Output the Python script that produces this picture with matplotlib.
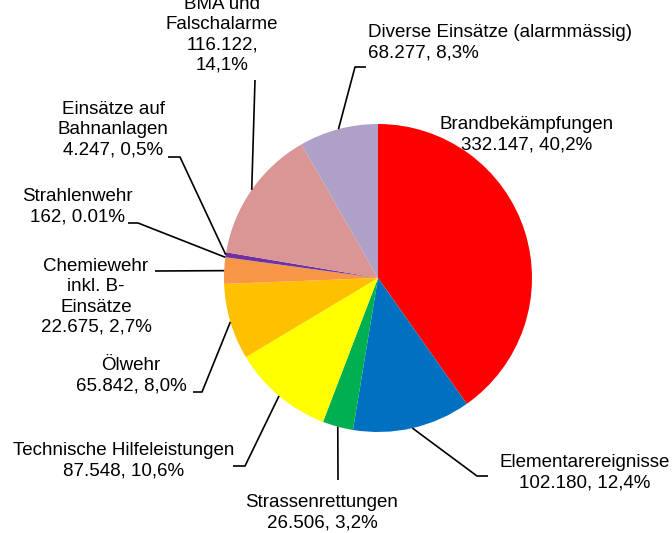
import numpy as np
import matplotlib.pyplot as plt

# data
labels = ["Brandbekämpfungen", "Elementarereignisse", "Strassenrettungen",
          "Technische Hilfeleistungen", "Ölwehr", "Chemiewehr\ninkl. B-\nEinsätze",
          "Strahlenwehr", "Einsätze auf\nBahnanlagen", "BMA und\nFalschalarme",
          "Diverse Einsätze (alarmmässig)"]
values = [332147, 102180, 26506, 87548, 65842, 22675, 162, 4247, 116122, 68277]
value_text = ["332.147, 40,2%", "102.180, 12,4%", "26.506, 3,2%", "87.548, 10,6%",
              "65.842, 8,0%", "22.675, 2,7%", "162, 0.01%", "4.247, 0,5%",
              "116.122,\n14,1%", "68.277, 8,3%"]
colors = ["#FF0000", "#0070C0", "#00B050", "#FFFF00", "#FFC000", "#F79646",
          "#4BACC6", "#7030A0", "#D99694", "#AFA0C8"]

W, H = 672, 533
plt.rcParams['font.family'] = ['Liberation Sans', 'DejaVu Sans']

fig = plt.figure(figsize=(W / 100, H / 100), dpi=100)
ax = fig.add_axes([0, 0, 1, 1])


def px(x, y):
    # pixel coords (top-left origin) -> data coords
    return x, H - y


cx, cy = px(378, 278)
R = 154
wedges, _ = ax.pie(values, colors=colors, startangle=90, counterclock=False,
                   center=(cx, cy), radius=R, frame=True,
                   wedgeprops=dict(linewidth=0))
ax.set_xlim(0, W)
ax.set_ylim(0, H)
ax.set_aspect('equal')
ax.axis('off')

# label layout: (text x, text y, ha, stub points leading to wedge)
layout = [
    (527, 135, 'center', None),
    (585, 473, 'center', [(488, 476), (477, 476)]),
    (322, 513, 'center', [(338, 480)]),
    (124, 461, 'center', [(233, 466), (245, 466)]),
    (131, 376, 'center', [(193, 392), (202, 392)]),
    (96, 297, 'center', [(155, 271)]),
    (77, 207, 'center', [(128, 223), (138, 223)]),
    (113, 130, 'center', [(168, 157), (180, 157)]),
    (222, 35, 'center', [(255, 80)]),
    (368, 43, 'left', [(366, 67), (355, 67)]),
]

for w, lab, vt, (tx, ty, ha, stub) in zip(wedges, labels, value_text, layout):
    ax.text(*px(tx, ty), lab + "\n" + vt, ha=ha, va='center', fontsize=13.5,
            linespacing=1.24, multialignment=ha, color='black')
    if stub is None:
        continue
    mid = np.deg2rad((w.theta1 + w.theta2) / 2)
    ex, ey = cx + R * np.cos(mid), cy + R * np.sin(mid)
    pts = [px(*p) for p in stub] + [(ex, ey)]
    xs, ys = zip(*pts)
    ax.plot(xs, ys, color='black', linewidth=1.2, solid_capstyle='butt')

fig.savefig('out.png', dpi=100)
